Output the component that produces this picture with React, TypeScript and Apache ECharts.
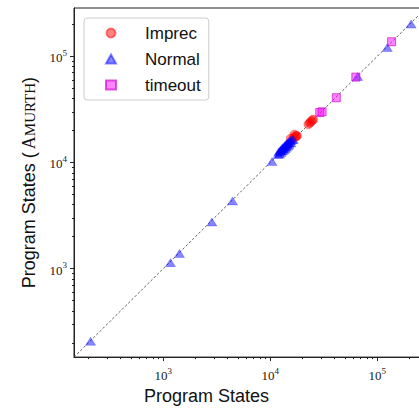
import React, { useEffect, useRef } from 'react';
import * as echarts from 'echarts';

// ---- data ----
const IMPREC_X = [15500, 16500, 16800, 17300, 17500, 17800, 22700, 23400, 24000, 24700, 25200];
const IMPREC_Y = [16800, 17000, 18300, 17500, 17900, 17800, 22900, 23600, 24300, 24900, 25400];

const NORMAL_X = [210, 1170, 1420, 2850, 4450, 10400,
  11800, 12000, 12200, 12400, 12600, 12800, 13000, 13200, 13400, 13600, 13800, 14000, 14200, 14400, 14600, 14800, 15000, 15300, 15600, 16000, 16400, 12500, 13100, 13700, 14300, 14900, 15500,
  65500, 124000, 207000];
const NORMAL_Y = [207, 1140, 1390, 2750, 4350, 10200,
  11900, 12600, 12000, 13000, 12400, 13500, 12800, 13900, 13100, 14400, 13500, 14800, 13900, 15200, 14300, 15600, 14800, 16000, 15300, 16400, 16500, 12900, 13600, 14100, 14900, 15400, 16100,
  64500, 121000, 201000];

const TIMEOUT_X = [29000, 30500, 41400, 63000, 136000];
const TIMEOUT_Y = [29500, 30000, 40700, 63700, 137000];

const MAJOR_TICKS = [1000, 10000, 100000];
const MINOR_TICKS = [200, 300, 400, 500, 600, 700, 800, 900, 2000, 3000, 4000, 5000, 6000, 7000, 8000, 9000, 20000, 30000, 40000, 50000, 60000, 70000, 80000, 90000, 200000];
const AXIS_MIN = 147;
const AXIS_MAX = 285000;
const DIAGONAL = [AXIS_MIN, AXIS_MAX];

const SERIES_NAMES = ['Imprec', 'Normal', 'timeout'];

const pairs = (xs: number[], ys: number[]) => xs.map((x, i) => [x, ys[i]]);

const tickLabel = (v: number) => {
  const l = Math.log10(v);
  const e = Math.round(l);
  return Math.abs(l - e) < 1e-6 ? `{b|10}{s|${e}}` : '';
};

const AX_COLOR = '#222';
const SANS = 'Liberation Sans';
const SERIF = 'Liberation Serif';

const labelRich = {
  b: { fontFamily: SERIF, fontSize: 13, color: AX_COLOR, lineHeight: 16, verticalAlign: 'bottom' },
  s: { fontFamily: SERIF, fontSize: 9, color: AX_COLOR, lineHeight: 9, verticalAlign: 'top' },
};

function mainAxis(isX: boolean) {
  return {
    type: 'log',
    logBase: 10,
    min: AXIS_MIN,
    max: AXIS_MAX,
    gridIndex: 0,
    position: isX ? 'bottom' : 'left',
    axisLine: { show: true, lineStyle: { color: AX_COLOR, width: 1 } },
    axisTick: { show: true, inside: false, length: 4, customValues: MAJOR_TICKS, lineStyle: { color: AX_COLOR, width: 1 } },
    axisLabel: { show: true, customValues: MAJOR_TICKS, formatter: tickLabel, margin: isX ? 9 : 7, rich: labelRich },
    splitLine: { show: false },
    minorTick: { show: false },
    nameLocation: 'middle',
  };
}

function minorAxis(isX: boolean) {
  return {
    type: 'log',
    logBase: 10,
    min: AXIS_MIN,
    max: AXIS_MAX,
    gridIndex: 0,
    position: isX ? 'bottom' : 'left',
    axisLine: { show: false },
    axisLabel: { show: false },
    splitLine: { show: false },
    axisTick: { show: true, inside: false, length: 2, customValues: MINOR_TICKS, lineStyle: { color: AX_COLOR, width: 1 } },
  };
}

export default function App() {
  const ref = useRef<HTMLDivElement>(null);
  useEffect(() => {
    document.body.style.margin = '0';
    document.body.style.overflow = 'hidden';
    if (!ref.current) return;
    const chart = echarts.init(ref.current, null, { renderer: 'svg' });
    const option: any = {
      animation: false,
      backgroundColor: '#fff',
      grid: { left: 74, top: 8, width: 352, height: 351, show: true, borderColor: AX_COLOR, borderWidth: 1, backgroundColor: 'transparent' },
      legend: {
        data: SERIES_NAMES,
        orient: 'vertical',
        left: 84,
        top: 18,
        padding: [6, 8, 6, 21],
        itemGap: 8,
        itemWidth: 10,
        itemHeight: 9,
        selectedMode: false,
        backgroundColor: 'rgba(255,255,255,0.8)',
        borderColor: '#cccccc',
        borderWidth: 1,
        borderRadius: 3,
        textStyle: { fontFamily: SANS, fontSize: 17, color: '#111', lineHeight: 18, padding: [0, 0, 0, 24] },
      },
      xAxis: [
        {
          ...mainAxis(true),
          name: 'Program States',
          nameGap: 27,
          nameTextStyle: { fontFamily: SANS, fontSize: 18, color: '#111', padding: [0, 87, 0, 0] },
        },
        minorAxis(true),
      ],
      yAxis: [
        {
          ...mainAxis(false),
          name: '{t|Program States (}{a|A}{m|MURTH}{t|)}',
          nameGap: 36,
          nameTextStyle: {
            rich: {
              t: { fontFamily: SANS, fontSize: 18, color: '#111', verticalAlign: 'bottom' },
              a: { fontFamily: SERIF, fontSize: 18, color: '#111', verticalAlign: 'bottom', padding: [0, 0, 0, 3] },
              m: { fontFamily: SERIF, fontSize: 15, color: '#111', verticalAlign: 'bottom', padding: [0, 0, 1, 0] },
            },
          },
        },
        minorAxis(false),
      ],
      series: [
        {
          name: 'diag',
          type: 'line',
          data: pairs(DIAGONAL, DIAGONAL),
          showSymbol: false,
          silent: true,
          z: 1,
          lineStyle: { color: '#3a3a3a', width: 0.8, type: [2.5, 2] },
        },
        {
          name: 'Imprec',
          type: 'scatter',
          symbol: 'circle',
          symbolSize: 9,
          z: 2,
          data: pairs(IMPREC_X, IMPREC_Y),
          itemStyle: { color: 'rgba(255,0,0,0.6)', borderColor: 'rgba(255,0,0,0.6)', borderWidth: 0.5 },
        },
        {
          name: 'Normal',
          type: 'scatter',
          symbol: 'triangle',
          symbolSize: [10, 8],
          z: 3,
          data: pairs(NORMAL_X, NORMAL_Y),
          itemStyle: { color: 'rgba(0,0,255,0.6)', borderColor: 'rgba(0,0,255,0.6)', borderWidth: 0.5 },
        },
        {
          name: 'timeout',
          type: 'scatter',
          symbol: 'rect',
          symbolSize: 8,
          z: 4,
          data: pairs(TIMEOUT_X, TIMEOUT_Y),
          itemStyle: { color: 'rgba(255,0,255,0.6)', borderColor: 'rgba(200,0,200,0.8)', borderWidth: 1 },
        },
      ],
    };
    chart.setOption(option);
    return () => chart.dispose();
  }, []);
  return (
    <div style={{ width: 419, height: 410, overflow: 'hidden', position: 'relative' }}>
      <div ref={ref} style={{ width: 430, height: 410 }} />
    </div>
  );
}
